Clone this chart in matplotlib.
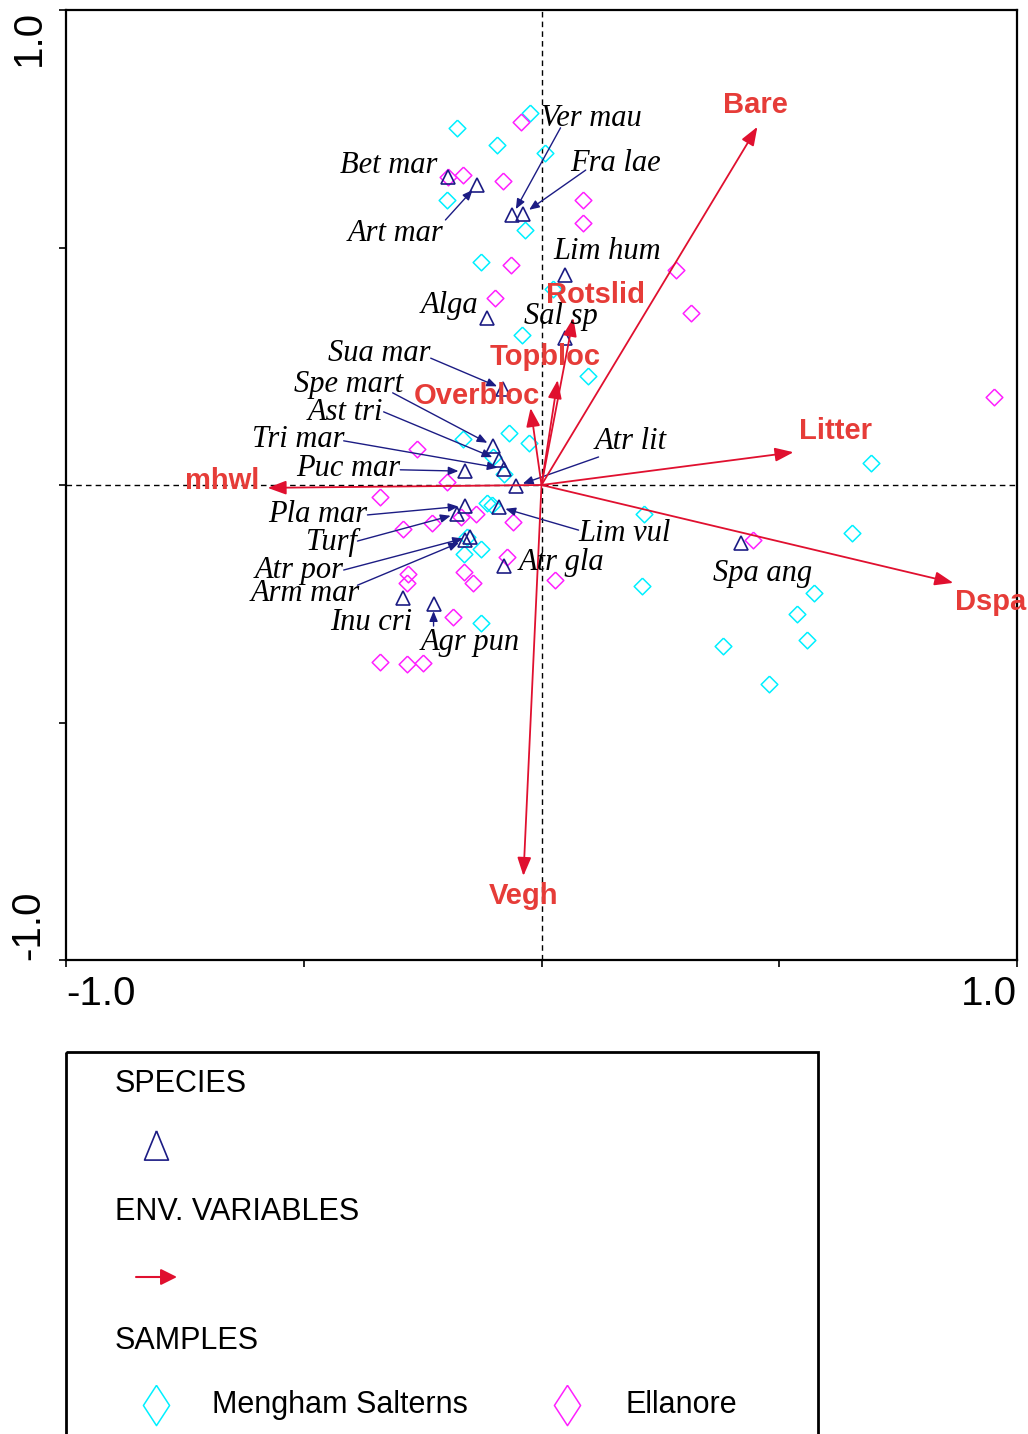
import matplotlib
matplotlib.use("Agg")
import matplotlib.pyplot as plt
from matplotlib.patches import Rectangle
from matplotlib.transforms import offset_copy

NAVY = "#1c1c84"
RED = "#e0102f"
RED_TXT = "#e63c38"
CYAN = "#00f0ff"
MAGENTA = "#ff20ff"

# species scores (axis 1, axis 2)
species_names = ["Bet mar", "Art mar", "Ver mau", "Fra lae", "Lim hum", "Alga",
                 "Sal sp", "Sua mar", "Spe mart", "Ast tri", "Tri mar", "Puc mar",
                 "Atr lit", "Pla mar", "Turf", "Lim vul", "Atr por", "Arm mar",
                 "Atr gla", "Inu cri", "Agr pun", "Spa ang"]
species_x = [-0.196, -0.135, -0.061, -0.038, 0.050, -0.114, 0.050, -0.080, -0.101,
             -0.090, -0.078, -0.160, -0.053, -0.160, -0.177, -0.090, -0.151, -0.160,
             -0.078, -0.292, -0.227, 0.419]
species_y = [0.648, 0.632, 0.568, 0.571, 0.442, 0.352, 0.309, 0.202, 0.082,
             0.053, 0.034, 0.029, -0.002, -0.044, -0.061, -0.046, -0.109, -0.116,
             -0.171, -0.238, -0.251, -0.122]

# environmental variable biplot scores
env_names = ["Bare", "Rotslid", "Topbloc", "Overbloc", "Litter", "Dspa", "Vegh", "mhwl"]
env_x = [0.454, 0.067, 0.034, -0.023, 0.530, 0.866, -0.038, -0.576]
env_y = [0.754, 0.352, 0.221, 0.162, 0.069, -0.206, -0.823, -0.006]

# sample scores by site
mengham_x = [-0.177, -0.025, -0.093, 0.008, -0.198, -0.034, -0.128, 0.025, -0.042,
             0.097, -0.069, -0.027, -0.166, -0.101, -0.078, -0.114, -0.105, -0.156,
             -0.164, -0.128, -0.128, 0.692, 0.215, 0.654, 0.212, 0.574, 0.538,
             0.559, 0.381, 0.479]
mengham_y = [0.752, 0.783, 0.716, 0.699, 0.600, 0.537, 0.469, 0.413, 0.316,
             0.229, 0.109, 0.088, 0.097, 0.059, 0.023, -0.038, -0.042, -0.109,
             -0.145, -0.135, -0.291, 0.046, -0.061, -0.101, -0.213, -0.227, -0.272,
             -0.326, -0.339, -0.419]
ellanore_x = [-0.044, -0.166, -0.082, -0.196, 0.088, 0.088, -0.065, -0.097, 0.282,
              0.315, 0.951, -0.261, -0.198, -0.339, -0.292, -0.231, -0.170, -0.137,
              -0.059, -0.072, -0.164, -0.145, -0.280, -0.282, 0.029, -0.187, -0.339,
              -0.282, -0.250, 0.444]
ellanore_y = [0.764, 0.653, 0.640, 0.648, 0.600, 0.552, 0.463, 0.394, 0.453,
              0.362, 0.185, 0.076, 0.006, -0.025, -0.093, -0.080, -0.067, -0.061,
              -0.078, -0.152, -0.183, -0.206, -0.187, -0.206, -0.200, -0.278, -0.373,
              -0.377, -0.375, -0.116]

# where each species name sits: text x, text y, alignment, leader start (or None)
species_labels = {
    "Bet mar": (-0.219, 0.676, "right", None),
    "Art mar": (-0.206, 0.533, "right", (-0.202, 0.558)),
    "Ver mau": (-0.002, 0.775, "left", (0.040, 0.752)),
    "Fra lae": (0.061, 0.682, "left", (0.093, 0.663)),
    "Lim hum": (0.025, 0.495, "left", None),
    "Alga": (-0.132, 0.383, "right", None),
    "Sal sp": (-0.036, 0.360, "left", None),
    "Sua mar": (-0.233, 0.282, "right", (-0.233, 0.267)),
    "Spe mart": (-0.290, 0.217, "right", (-0.313, 0.194)),
    "Ast tri": (-0.332, 0.158, "right", (-0.332, 0.154)),
    "Tri mar": (-0.414, 0.101, "right", (-0.416, 0.093)),
    "Puc mar": (-0.297, 0.040, "right", (-0.297, 0.032)),
    "Atr lit": (0.111, 0.095, "left", (0.120, 0.059)),
    "Pla mar": (-0.366, -0.057, "right", (-0.366, -0.063)),
    "Turf": (-0.387, -0.116, "right", (-0.387, -0.118)),
    "Lim vul": (0.078, -0.097, "left", (0.078, -0.095)),
    "Atr por": (-0.416, -0.175, "right", (-0.416, -0.179)),
    "Arm mar": (-0.381, -0.225, "right", (-0.387, -0.211)),
    "Atr gla": (-0.048, -0.158, "left", None),
    "Inu cri": (-0.271, -0.286, "right", None),
    "Agr pun": (-0.254, -0.328, "left", (-0.227, -0.297)),
    "Spa ang": (0.360, -0.181, "left", None),
}
env_labels = {
    "Bare": (0.450, 0.800), "Rotslid": (0.114, 0.400), "Topbloc": (0.008, 0.269),
    "Overbloc": (-0.135, 0.187), "Litter": (0.618, 0.114), "Dspa": (0.944, -0.246),
    "Vegh": (-0.038, -0.865), "mhwl": (-0.671, 0.008),
}

W, H = 1028, 1434
fig = plt.figure(figsize=(W / 100, H / 100), dpi=100)
ax = fig.add_axes([66 / W, 1 - 960 / H, (1017 - 66) / W, (960 - 10) / H])
ax.set_xlim(-1, 1)
ax.set_ylim(-1, 1)

ax.axhline(0, color="black", lw=1.0, ls=(0, (4, 3)), zorder=1)
ax.axvline(0, color="black", lw=1.0, ls=(0, (4, 3)), zorder=1)

diamond = [(0, 1), (1, 0), (0, -1), (-1, 0), (0, 1)]
ax.plot(mengham_x, mengham_y, ls="none", marker=diamond, ms=12, mfc="none",
        mec=CYAN, mew=1.1, zorder=3)
ax.plot(ellanore_x, ellanore_y, ls="none", marker=diamond, ms=12, mfc="none",
        mec=MAGENTA, mew=1.1, zorder=3)

ax.plot(species_x, species_y, ls="none", marker="^", ms=9.5, mfc="none",
        mec=NAVY, mew=1.2, zorder=4)

serif = ["Liberation Serif", "DejaVu Serif"]
label_trans = offset_copy(ax.transData, fig=fig, x=0, y=-1.5, units="points")
for name, sx, sy in zip(species_names, species_x, species_y):
    tx, ty, ha, lead = species_labels[name]
    if lead is not None:
        ax.annotate("", xy=(sx, sy), xytext=lead,
                    arrowprops=dict(arrowstyle="-|>,head_length=0.6,head_width=0.25",
                                    color=NAVY, lw=1.0, shrinkA=0, shrinkB=5,
                                    mutation_scale=10), zorder=4)
    ax.text(tx, ty, name, ha=ha, va="center", fontsize=22, family=serif,
            style="italic", color="black", zorder=6, transform=label_trans)

for name, ex, ey in zip(env_names, env_x, env_y):
    ax.annotate("", xy=(ex, ey), xytext=(0, 0),
                arrowprops=dict(arrowstyle="-|>,head_length=0.8,head_width=0.3",
                                color=RED, lw=1.3, shrinkA=0, shrinkB=0,
                                mutation_scale=14), zorder=5)
    lx, ly = env_labels[name]
    ax.text(lx, ly, name, ha="center", va="center", fontsize=21,
            family="Liberation Sans", weight="bold", color=RED_TXT, zorder=7)

for s in ax.spines.values():
    s.set_linewidth(1.6)
ax.set_xticks([-1, -0.5, 0, 0.5, 1])
ax.set_yticks([-1, -0.5, 0, 0.5, 1])
ax.set_xticklabels(["-1.0", "", "", "", "1.0"], family="Liberation Sans", fontsize=29)
ax.set_yticklabels(["-1.0", "", "", "", "1.0"], family="Liberation Sans", fontsize=29,
                   rotation=90)
ax.tick_params(direction="out", length=5, width=1.2, pad=6)
xl = ax.get_xticklabels()
xl[0].set_ha("left")
xl[-1].set_ha("right")
yl = ax.get_yticklabels()
yl[0].set_va("bottom")
yl[-1].set_va("top")
for t in yl:
    t.set_ha("center")
ax.tick_params(axis="y", pad=22)

# legend panel, laid out in pixel units
lg = fig.add_axes([0, 0, 1, 1], zorder=-1)
lg.set_xlim(0, W)
lg.set_ylim(H, 0)
lg.axis("off")
lg.add_patch(Rectangle((66, 1052), 752, 420, fill=False, ec="black", lw=2.0))
sans = dict(family="Liberation Sans", fontsize=22, va="center", ha="left")
lg.text(115, 1084, "SPECIES", **sans)
lg.plot([156], [1145], ls="none", marker=[(0, 1), (-0.82, -1), (0.82, -1), (0, 1)],
        ms=21, mfc="none", mec=NAVY, mew=1.2)
lg.text(115, 1212, "ENV. VARIABLES", **sans)
lg.annotate("", xy=(177, 1277), xytext=(136, 1277),
            arrowprops=dict(arrowstyle="-|>,head_length=0.7,head_width=0.35",
                            color=RED, lw=1.5, shrinkA=0, shrinkB=0, mutation_scale=14))
lg.text(115, 1341, "SAMPLES", **sans)
thin_diamond = [(0, 1), (0.65, 0), (0, -1), (-0.65, 0), (0, 1)]
lg.plot([156], [1405], ls="none", marker=thin_diamond, ms=29, mfc="none",
        mec=CYAN, mew=1.1)
lg.text(212, 1405, "Mengham Salterns", **sans)
lg.plot([567], [1405], ls="none", marker=thin_diamond, ms=29, mfc="none",
        mec=MAGENTA, mew=1.1)
lg.text(625, 1405, "Ellanore", **sans)

fig.savefig("out.png", dpi=100)
